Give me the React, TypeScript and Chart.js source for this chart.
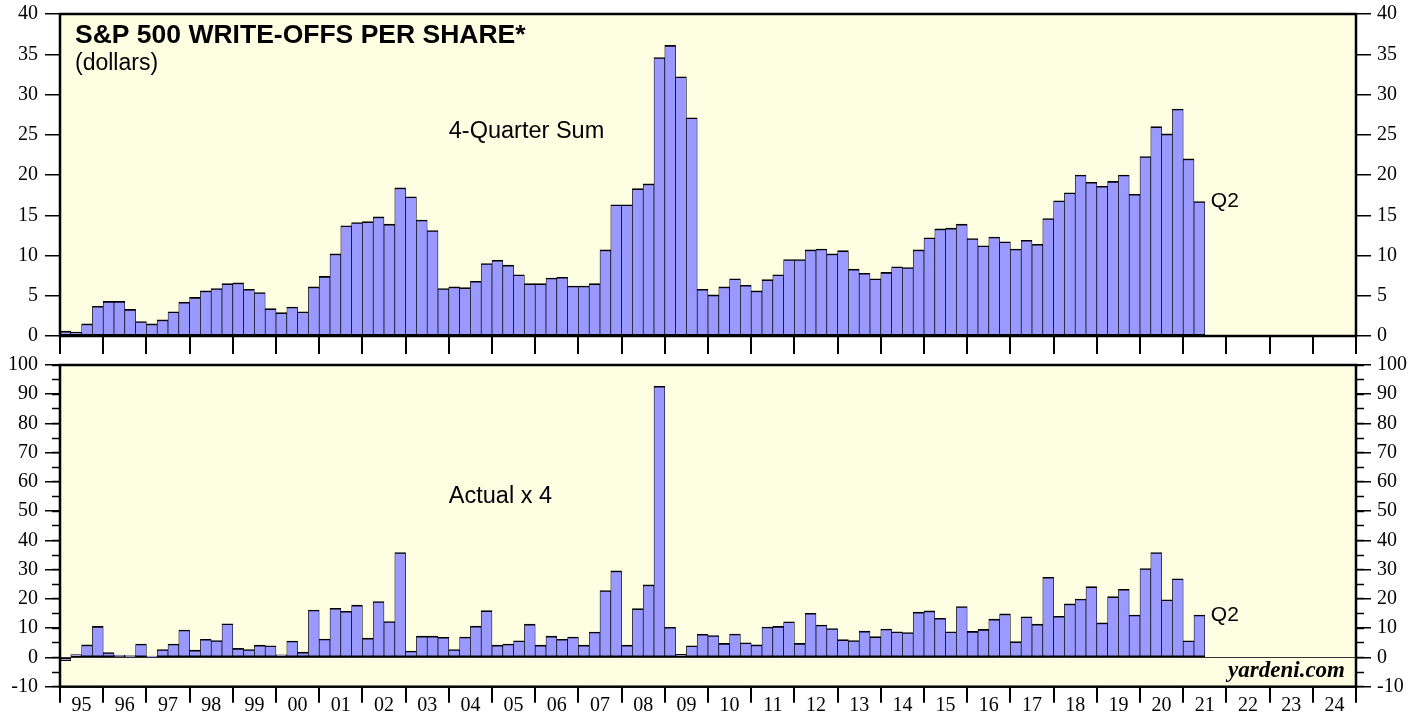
import React, { useEffect, useRef } from 'react';
import { Chart, registerables } from 'chart.js';

Chart.register(...registerables);

const yearLabels = ['95', '96', '97', '98', '99', '00', '01', '02', '03', '04', '05', '06', '07', '08', '09', '10', '11', '12', '13', '14', '15', '16', '17', '18', '19', '20', '21', '22', '23', '24'];

// Quarterly, 1995 Q1 .. 2021 Q2
const fourQuarterSum = [
  0.6, 0.5, 1.5, 3.7,
  4.3, 4.3, 3.3, 1.8,
  1.5, 2.0, 3.0, 4.2,
  4.8, 5.6, 5.9, 6.5,
  6.6, 5.8, 5.4, 3.4,
  2.9, 3.6, 3.0, 6.1,
  7.4, 10.2, 13.7, 14.1,
  14.2, 14.8, 13.9, 18.4,
  17.3, 14.4, 13.1, 5.9,
  6.1, 6.0, 6.8, 9.0,
  9.4, 8.8, 7.6, 6.5,
  6.5, 7.2, 7.3, 6.2,
  6.2, 6.5, 10.7, 16.3,
  16.3, 18.3, 18.9, 34.6,
  36.1, 32.2, 27.1, 5.8,
  5.1, 6.1, 7.1, 6.3,
  5.6, 7.0, 7.6, 9.5,
  9.5, 10.7, 10.8, 10.2,
  10.6, 8.3, 7.8, 7.1,
  7.9, 8.6, 8.5, 10.7,
  12.2, 13.3, 13.4, 13.9,
  12.1, 11.2, 12.3, 11.7,
  10.8, 11.9, 11.4, 14.6,
  16.8, 17.8, 20.0, 19.1,
  18.6, 19.2, 20.0, 17.6,
  22.3, 26.0, 25.1, 28.2,
  22.0, 16.7,
];

const actualX4 = [
  -1.1, 1.0, 4.3, 10.6,
  1.7, 0.8, 0.6, 4.6,
  0.5, 2.7, 4.6, 9.4,
  2.5, 6.2, 5.8, 11.5,
  3.1, 2.7, 4.2, 4.0,
  0.9, 5.6, 1.8, 16.2,
  6.3, 16.8, 15.8, 17.9,
  6.6, 19.1, 12.3, 35.9,
  2.2, 7.3, 7.3, 6.9,
  2.7, 7.0, 10.7, 16.0,
  4.2, 4.6, 5.7, 11.4,
  4.2, 7.3, 6.2, 7.0,
  4.2, 8.7, 22.9, 29.6,
  4.2, 16.7, 24.8, 92.7,
  10.3, 1.1, 4.0, 7.9,
  7.5, 4.8, 8.0, 5.0,
  4.3, 10.4, 10.6, 12.2,
  4.8, 15.1, 11.1, 9.9,
  6.1, 5.8, 9.0, 7.1,
  9.7, 8.8, 8.5, 15.5,
  15.9, 13.4, 8.8, 17.4,
  8.9, 9.6, 13.1, 14.9,
  5.4, 13.9, 11.4, 27.4,
  14.1, 18.3, 20.0, 24.2,
  11.8, 20.8, 23.3, 14.5,
  30.4, 35.9, 19.7, 26.9,
  5.7, 14.5,
];

const lastQuarterLabel = 'Q2';
const topTitle = 'S&P 500 WRITE-OFFS PER SHARE*';
const topSubtitle = '(dollars)';
const topPanelLabel = '4-Quarter Sum';
const bottomPanelLabel = 'Actual x 4';
const sourceLabel = 'yardeni.com';

const topY = { min: 0, max: 40, step: 5 };
const bottomY = { min: -10, max: 100, step: 10, minor: 5 };

const BG = '#FEFEE3';
const BAR_FILL = '#9999FF';
const SERIF = "'Liberation Serif', 'Times New Roman', serif";
const SANS = "'Liberation Sans', Arial, sans-serif";

const QUARTERS = yearLabels.length * 4;

const toPoints = (vals: number[]) => vals.map((v, i) => ({ x: i + 0.5, y: v }));

type TextItem = {
  text: string;
  font: string;
  x: (a: any, xs: any) => number;
  y: (a: any) => number;
  align?: CanvasTextAlign;
};

function panelPlugin(texts: TextItem[], lastLabel: string) {
  return {
    id: 'panel',
    beforeDraw(chart: any) {
      const { ctx, chartArea: a } = chart;
      ctx.save();
      ctx.fillStyle = BG;
      ctx.fillRect(a.left, a.top, a.right - a.left, a.bottom - a.top);
      ctx.restore();
    },
    afterDraw(chart: any) {
      const { ctx, chartArea: a, scales } = chart;
      ctx.save();
      ctx.strokeStyle = '#000';
      ctx.lineWidth = 2.5;
      ctx.strokeRect(a.left, a.top, a.right - a.left, a.bottom - a.top);
      ctx.fillStyle = '#000';
      ctx.textBaseline = 'alphabetic';
      for (const t of texts) {
        ctx.font = t.font;
        ctx.textAlign = t.align || 'left';
        ctx.fillText(t.text, t.x(a, scales.x), t.y(a));
      }
      const data = chart.data.datasets[0].data;
      const last = data[data.length - 1];
      ctx.font = `21px ${SANS}`;
      ctx.textAlign = 'left';
      ctx.textBaseline = 'middle';
      ctx.fillText(lastLabel, scales.x.getPixelForValue(last.x + 0.5) + 6, scales.y.getPixelForValue(last.y));
      ctx.restore();
    },
  };
}

function xTickAxis(tickLength: number, height: number) {
  return {
    type: 'linear',
    axis: 'x',
    position: 'bottom',
    min: 0,
    max: QUARTERS,
    offset: false,
    weight: 0,
    ticks: { display: false, stepSize: 4, maxTicksLimit: 500 },
    grid: { offset: false, drawOnChartArea: false, drawTicks: true, tickLength, color: '#000', lineWidth: 2 },
    border: { display: false },
    afterFit: (s: any) => { s.height = height; },
  };
}

function xLabelAxis(height: number) {
  return {
    type: 'linear',
    axis: 'x',
    position: 'bottom',
    min: 0,
    max: QUARTERS,
    offset: false,
    weight: 1,
    ticks: {
      autoSkip: false,
      maxRotation: 0,
      minRotation: 0,
      padding: 7,
      color: '#000',
      font: { family: SERIF, size: 20 },
      callback: (_v: any, i: number) => yearLabels[i],
    },
    afterBuildTicks: (s: any) => {
      s.ticks = yearLabels.map((_, i) => ({ value: i * 4 + 2 }));
    },
    grid: { display: false, drawTicks: false, drawOnChartArea: false },
    border: { display: false },
    afterFit: (s: any) => { s.height = height; },
  };
}

function yMajorAxis(position: 'left' | 'right', r: { min: number; max: number; step: number }, width: number, padding: number) {
  return {
    type: 'linear',
    axis: 'y',
    position,
    min: r.min,
    max: r.max,
    weight: 1,
    ticks: { stepSize: r.step, maxTicksLimit: 500, padding, color: '#000', font: { family: SERIF, size: 20 } },
    grid: { drawOnChartArea: false, drawTicks: true, tickLength: 15, color: '#000', lineWidth: 1.5 },
    border: { display: false },
    afterFit: (s: any) => { s.width = width; },
  };
}

function yMinorAxis(position: 'left' | 'right', r: { min: number; max: number; minor: number }, zeroLine: boolean) {
  return {
    type: 'linear',
    axis: 'y',
    position,
    min: r.min,
    max: r.max,
    weight: 0,
    ticks: { display: false, stepSize: r.minor, maxTicksLimit: 500 },
    grid: {
      drawOnChartArea: zeroLine,
      drawTicks: true,
      tickLength: 8,
      color: (ctx: any) => (zeroLine && ctx.tick && ctx.tick.value === 0 ? '#333' : 'rgba(0,0,0,0)'),
      lineWidth: 1,
      tickColor: '#000',
      tickWidth: 1.5,
    },
    border: { display: false },
    afterFit: (s: any) => { s.width = 0; },
  };
}

function barDataset(values: number[]) {
  return {
    data: toPoints(values),
    backgroundColor: BAR_FILL,
    borderColor: '#000',
    borderWidth: { top: 1.6, left: 0.7, right: 0.7, bottom: 1.5 },
    borderSkipped: false,
    barPercentage: 1,
    categoryPercentage: 1,
    xAxisID: 'x',
    yAxisID: 'y',
  };
}

const baseOptions = {
  responsive: false,
  animation: false,
  events: [],
  plugins: { legend: { display: false }, tooltip: { enabled: false } },
};

function topConfig(): any {
  const texts: TextItem[] = [
    { text: topTitle, font: `bold 26.5px ${SANS}`, x: (a) => a.left + 15, y: (a) => a.top + 29 },
    { text: topSubtitle, font: `23px ${SANS}`, x: (a) => a.left + 15, y: (a) => a.top + 56 },
    { text: topPanelLabel, font: `23.5px ${SANS}`, x: (_a, xs) => xs.getPixelForValue(36), y: (a) => a.top + 124 },
  ];
  return {
    type: 'bar',
    data: { datasets: [barDataset(fourQuarterSum)] },
    options: {
      ...baseOptions,
      layout: { padding: { top: 24, left: 0, right: 0, bottom: 0 } },
      scales: {
        x: xTickAxis(18, 20),
        y: yMajorAxis('left', topY, 60, 7),
        yr: yMajorAxis('right', topY, 70, 6),
      },
    },
    plugins: [panelPlugin(texts, lastQuarterLabel)],
  };
}

function bottomConfig(): any {
  const texts: TextItem[] = [
    { text: bottomPanelLabel, font: `23.5px ${SANS}`, x: (_a, xs) => xs.getPixelForValue(36), y: (a) => a.top + 138 },
    { text: sourceLabel, font: `italic bold 23px ${SERIF}`, x: (a) => a.right - 11, y: (a) => a.bottom - 10, align: 'right' },
  ];
  return {
    type: 'bar',
    data: { datasets: [barDataset(actualX4)] },
    options: {
      ...baseOptions,
      layout: { padding: { top: 25, left: 0, right: 0, bottom: 0 } },
      scales: {
        x: xTickAxis(16, 0),
        xl: xLabelAxis(28.3),
        y: yMajorAxis('left', bottomY, 60, 7),
        yMinor: yMinorAxis('left', bottomY, true),
        yr: yMajorAxis('right', bottomY, 70, 6),
        yrMinor: yMinorAxis('right', bottomY, false),
      },
    },
    plugins: [panelPlugin(texts, lastQuarterLabel)],
  };
}

export default function App() {
  const topRef = useRef<HTMLCanvasElement>(null);
  const botRef = useRef<HTMLCanvasElement>(null);

  useEffect(() => {
    const c1 = new Chart(topRef.current as HTMLCanvasElement, topConfig());
    const c2 = new Chart(botRef.current as HTMLCanvasElement, bottomConfig());
    return () => {
      c1.destroy();
      c2.destroy();
    };
  }, []);

  return (
    <div style={{ position: 'fixed', left: 0, top: 0, width: 1426, height: 715, background: '#fff', overflow: 'hidden' }}>
      <canvas ref={topRef} width={1426} height={366} style={{ position: 'absolute', left: 0, top: -10, width: 1426, height: 366 }} />
      <canvas ref={botRef} width={1426} height={375} style={{ position: 'absolute', left: 0, top: 340, width: 1426, height: 375 }} />
    </div>
  );
}
